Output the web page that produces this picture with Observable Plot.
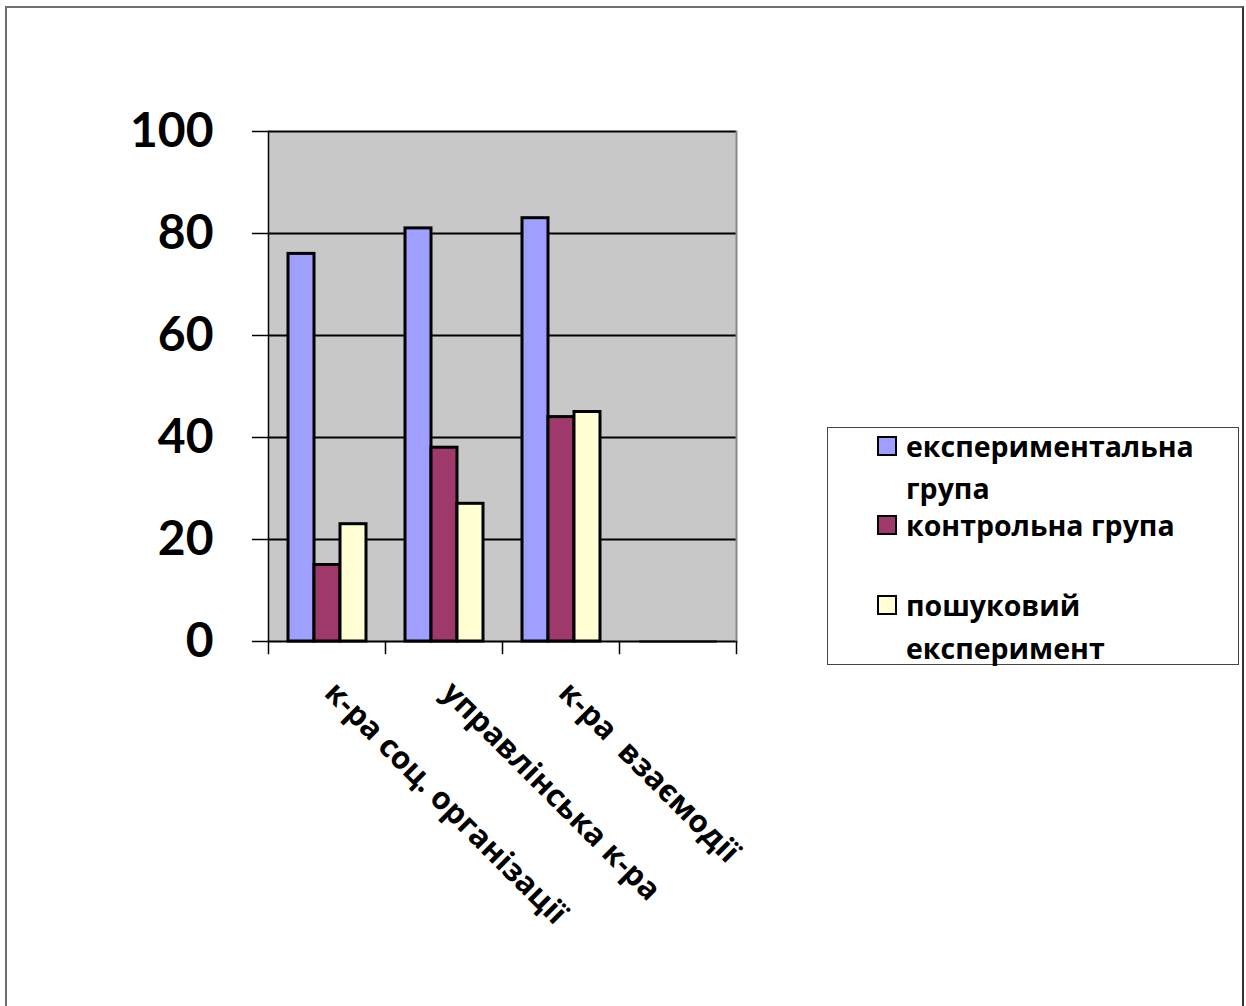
<!DOCTYPE html>
<html><head><meta charset="utf-8">
<script src="https://cdn.jsdelivr.net/npm/d3@7"></script>
<script src="https://cdn.jsdelivr.net/npm/@observablehq/plot@0.6"></script>
<style>
body{margin:0;background:#fff;}
#wrap{position:relative;width:1246px;height:1006px;overflow:hidden;}
#border{position:absolute;left:5px;top:6px;width:1239px;height:1020px;border:2px solid #6e6e6e;border-right-color:#333;box-sizing:border-box;}
#chart{position:absolute;left:0;top:0;}
#legend{position:absolute;left:827px;top:427px;width:412px;height:238px;border:1px solid #444;box-sizing:border-box;font-family:"Open Sans",sans-serif;font-weight:bold;font-size:28.5px;color:#000;background:#fff;}
#legend .ln{position:absolute;left:78px;height:42px;line-height:42px;white-space:nowrap;}
#legend .sw{position:absolute;left:49px;width:20px;height:20px;border:2px solid #000;box-sizing:border-box;}
svg text{white-space:pre;}
</style></head>
<body><div id="wrap"><div id="border"></div><div id="chart"></div><div id="legend"></div></div>
<script>
const categories = ["к-ра соц. організації", "управлінська к-ра", "к-ра  взаємодії", ""];
const seriesNames = ["експериментальна група", "контрольна група", "пошуковий експеримент"];
const experimental = [76, 81, 83, 0];
const control = [15, 38, 44, 0];
const search = [23, 27, 45, 0];
const yTicks = [0, 20, 40, 60, 80, 100];
const colors = ["#9f9fff", "#9f386b", "#ffffd3"];
const legendLines = [["експериментальна", "група"], ["контрольна група"], ["пошуковий", "експеримент"]];

const seriesValues = [experimental, control, search];
const data = [];
categories.forEach((c, i) => {
  seriesNames.forEach((s, j) => data.push({category: c, series: s, value: seriesValues[j][i]}));
});

const chart = Plot.plot({
  width: 1246, height: 1006,
  marginLeft: 268, marginRight: 510, marginTop: 131, marginBottom: 365,
  style: {background: "transparent", overflow: "visible"},
  fx: {domain: categories, padding: 0, axis: null},
  x: {domain: seriesNames, paddingInner: 0, paddingOuter: 0.72, axis: null},
  y: {domain: [0, 100]},
  color: {domain: seriesNames, range: colors},
  marks: [
    Plot.frame({fill: "#c8c8c8", shapeRendering: "crispEdges"}),
    Plot.gridY(yTicks, {stroke: "#000", strokeOpacity: 1, strokeWidth: 2}),
    Plot.frame({anchor: "left", facetAnchor: "left", stroke: "#000", strokeWidth: 1.5}),
    Plot.frame({anchor: "right", facetAnchor: "right", stroke: "#888", strokeWidth: 2}),
    Plot.frame({anchor: "left", insetTop: 510, insetBottom: -12, stroke: "#000", strokeWidth: 1.5}),
    Plot.frame({anchor: "right", facetAnchor: "right", insetTop: 510, insetBottom: -12, stroke: "#000", strokeWidth: 1.5}),
    Plot.barY(data, {fx: "category", x: "series", y: "value", fill: "series", stroke: "#000", strokeWidth: 3}),
    Plot.tickY(data, {filter: d => d.value === 0, fx: "category", x: "series", y: "value", stroke: "#000", strokeWidth: 2}),
    Plot.axisY(yTicks, {tickSize: 16, tickPadding: 39, fontSize: 48, fontWeight: "bold", fontFamily: "Lato", stroke: "#000", strokeWidth: 1.5, label: null, color: "#000"}),
    Plot.text(categories, {fx: d => d, text: d => d, frameAnchor: "bottom", dy: 53, dx: -4, rotate: 45, textAnchor: "start", fontSize: 31, fontWeight: "bold", fontFamily: "Open Sans", fill: "#000"})
  ]
});
document.getElementById("chart").appendChild(chart);

// legend
const legend = document.getElementById("legend");
const lineTops = [[-3, 39], [76], [156, 199]];
const swatchTops = [8, 87, 167];
legendLines.forEach((lines, i) => {
  const sw = document.createElement("div");
  sw.className = "sw";
  sw.style.top = swatchTops[i] + "px";
  sw.style.background = colors[i];
  legend.appendChild(sw);
  lines.forEach((t, k) => {
    const d = document.createElement("div");
    d.className = "ln";
    d.style.top = lineTops[i][k] + "px";
    d.textContent = t;
    legend.appendChild(d);
  });
});
</script>
</body></html>
